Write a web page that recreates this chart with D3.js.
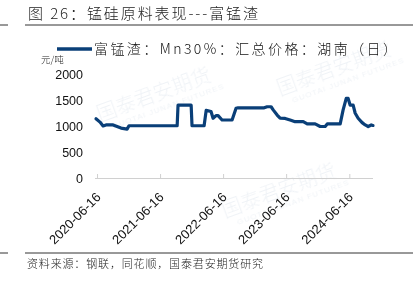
<!DOCTYPE html>
<html>
<head>
<meta charset="utf-8">
<script src="https://cdn.jsdelivr.net/npm/d3@7"></script>
<style>
  body { margin: 0; background: #fff; }
  svg text { font-family: "Liberation Sans", Arial, sans-serif; }
  .cjk { font-family: "Noto Sans CJK SC", sans-serif; font-weight: 300; }
</style>
</head>
<body>
<svg id="chart" width="417" height="282"></svg>
<script>
// 富锰渣 Mn30% 汇总价格 湖南（日），元/吨
const dates = [
  "2020-06-10","2020-07-03","2020-07-21","2020-08-07","2020-09-17","2020-10-10",
  "2020-11-02","2020-12-07","2020-12-18","2021-09-23","2021-09-28","2021-12-13",
  "2021-12-18","2022-02-26","2022-03-10","2022-04-07","2022-04-19","2022-05-06",
  "2022-05-18","2022-06-10","2022-08-07","2022-08-30","2022-09-11","2023-02-09",
  "2023-02-26","2023-03-21","2023-04-02","2023-04-25","2023-05-12","2023-06-10",
  "2023-07-09","2023-08-07","2023-09-23","2023-10-16","2023-12-01","2023-12-30",
  "2024-01-28","2024-02-09","2024-04-24","2024-05-11","2024-05-29","2024-06-09",
  "2024-06-21","2024-07-08","2024-07-20","2024-08-06","2024-08-29","2024-09-16",
  "2024-10-03","2024-10-21","2024-10-31"
];
const prices = [
  1140,1075,1000,1020,1020,990,
  960,940,1005,1005,1400,1400,
  1005,1005,1300,1280,1150,1200,
  1200,1115,1115,1340,1350,1350,
  1370,1370,1310,1210,1150,1145,
  1115,1083,1083,1040,1040,990,
  990,1040,1040,1310,1530,1530,
  1400,1400,1245,1150,1065,1020,
  990,1020,1010
];
const tickDates = ["2020-06-16","2021-06-16","2022-06-16","2023-06-16","2024-06-16"];
const yTicks = [0, 500, 1000, 1500, 2000];

const parse = d3.timeParse("%Y-%m-%d");
const fmt = d3.timeFormat("%Y-%m-%d");
const data = dates.map((d, i) => ({date: parse(d), value: prices[i]}));

const svg = d3.select("#chart");
const blue = "#0a3f78";

const x = d3.scaleTime()
  .domain(d3.extent(data, d => d.date))
  .range([96, 373]);
const y = d3.scaleLinear()
  .domain([0, 2000])
  .range([178, 74]);

// faint watermark, kept inside the picture
const marks = [[100, 122], [280, 96], [225, 218]];
const wm = svg.append("g").attr("opacity", 0.07);
marks.forEach(p => {
  const g = wm.append("g").attr("transform", `translate(${p[0]},${p[1]}) rotate(-20)`);
  g.append("text").attr("class", "cjk").attr("font-size", 20).attr("font-weight", 700)
    .attr("fill", "#1f4f86").text("国泰君安期货");
  g.append("text").attr("y", 11).attr("x", 10).attr("font-size", 8)
    .attr("fill", "#1f4f86").attr("letter-spacing", 1).text("GUOTAI JUNAN FUTURES");
});

// title and rules
svg.append("text").attr("class", "cjk")
  .attr("x", 28).attr("y", 19)
  .attr("font-size", 15).attr("fill", "#222")
  .attr("textLength", 230).attr("lengthAdjust", "spacing")
  .text("图 26：锰硅原料表现---富锰渣");
[25, 253].forEach(yy => {
  svg.append("line").attr("x1", 0).attr("x2", 8).attr("y1", yy).attr("y2", yy)
    .attr("stroke", "#333").attr("stroke-width", 1);
  svg.append("line").attr("x1", 25).attr("x2", 413).attr("y1", yy).attr("y2", yy)
    .attr("stroke", "#333").attr("stroke-width", 1);
});

// legend
svg.append("line").attr("x1", 57).attr("x2", 92).attr("y1", 49).attr("y2", 49)
  .attr("stroke", blue).attr("stroke-width", 3.5);
svg.append("text").attr("class", "cjk")
  .attr("x", 94).attr("y", 54)
  .attr("font-size", 14).attr("fill", "#111")
  .attr("textLength", 303).attr("lengthAdjust", "spacing")
  .text("富锰渣：Mn30%：汇总价格：湖南（日）");

svg.append("text").attr("class", "cjk")
  .attr("x", 41).attr("y", 63)
  .attr("font-size", 9.5).attr("fill", "#222")
  .text("元/吨");

// y axis (labels only)
const yAxis = svg.append("g")
  .attr("transform", "translate(83,0)")
  .call(d3.axisLeft(y).tickValues(yTicks).tickSize(0).tickPadding(0).tickFormat(d3.format("d")));
yAxis.select(".domain").remove();
yAxis.selectAll("text").attr("font-size", 12.5).attr("fill", "#111")
  .style("font-family", "Liberation Sans, Arial, sans-serif");

// x axis
const xAxis = svg.append("g")
  .attr("transform", "translate(0,178)")
  .call(d3.axisBottom(x)
    .tickValues(tickDates.map(parse))
    .tickSize(-4).tickSizeOuter(0)
    .tickFormat(fmt));
xAxis.select(".domain").attr("stroke", "#d0d0d0").attr("d", "M95,0.5H373");
xAxis.selectAll(".tick line").attr("stroke", "#d0d0d0");
xAxis.selectAll("text")
  .attr("font-size", 13).attr("fill", "#111")
  .style("font-family", "Liberation Sans, Arial, sans-serif")
  .attr("text-anchor", "end")
  .attr("dx", 0).attr("dy", 0).attr("y", 0)
  .attr("transform", "translate(4,20) rotate(-45)");

// series line
svg.append("path")
  .datum(data)
  .attr("fill", "none")
  .attr("stroke", blue)
  .attr("stroke-width", 3.2)
  .attr("stroke-linejoin", "round")
  .attr("stroke-linecap", "round")
  .attr("d", d3.line().x(d => x(d.date)).y(d => y(d.value)));

// footer
svg.append("text").attr("class", "cjk")
  .attr("x", 27).attr("y", 268)
  .attr("font-size", 11).attr("fill", "#222")
  .attr("textLength", 236).attr("lengthAdjust", "spacing")
  .text("资料来源：钢联，同花顺，国泰君安期货研究");
</script>
</body>
</html>
